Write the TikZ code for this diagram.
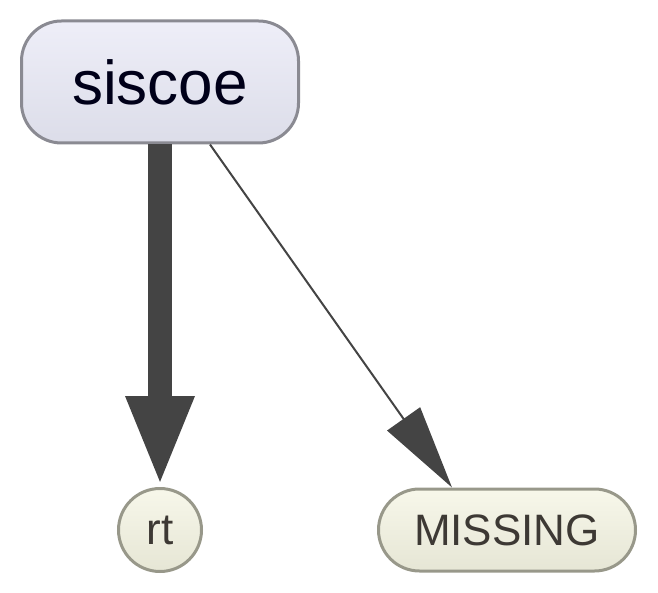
\documentclass[tikz,border=0pt]{standalone}
\usepackage{fontspec}
\setmainfont{Liberation Sans}
\usetikzlibrary{arrows.meta}
\definecolor{edgegray}{HTML}{444444}
\definecolor{topline}{HTML}{8A8A92}
\definecolor{leafline}{HTML}{98988A}
\definecolor{topfillA}{HTML}{EEEEF8}
\definecolor{topfillB}{HTML}{DCDDE9}
\definecolor{leaffillA}{HTML}{F7F7EA}
\definecolor{leaffillB}{HTML}{E6E6D5}
\tikzset{>=latex}

\begin{document}
\begin{tikzpicture}[x=1pt, y=-1pt]
                        % pixel coordinates, y runs downwards
                        \useasboundingbox (0, 0) rectangle (658, 593);
                        \tikzstyle{parent}=[draw=topline, line width=3pt, rounded corners=40pt,
                                top color=topfillA, bottom color=topfillB,
                                minimum width=277pt, minimum height=122pt, inner sep=0pt,
                                text=black!90!blue, font=\fontsize{62}{62}\selectfont]
                        \tikzstyle{leaf}=[draw=leafline, line width=3pt,
                                top color=leaffillA, bottom color=leaffillB,
                                text=black!88!yellow, font=\fontsize{44}{44}\selectfont, inner sep=0pt]
                        \tikzstyle{link}=[draw=edgegray]

                        \node[parent] (siscoe) at (160, 82) {siscoe};
                        \node[leaf, circle, minimum size=83pt] (rt) at (160, 530) {rt};
                        \node[leaf, rounded corners=41pt, minimum width=257pt, minimum height=82pt]
                                (MISSING) at (507, 530) {MISSING};

                        \draw[link, line width=24pt, -{Triangle[length=91pt, width=62pt]}]
                                (siscoe.south) -- (rt.north);
                        \draw[link, line width=2pt, -{Triangle[length=84pt, width=40pt]}]
                                ([xshift=50pt]siscoe.south) -- ([xshift=-55pt]MISSING.north);
                \end{tikzpicture}
\end{document}
